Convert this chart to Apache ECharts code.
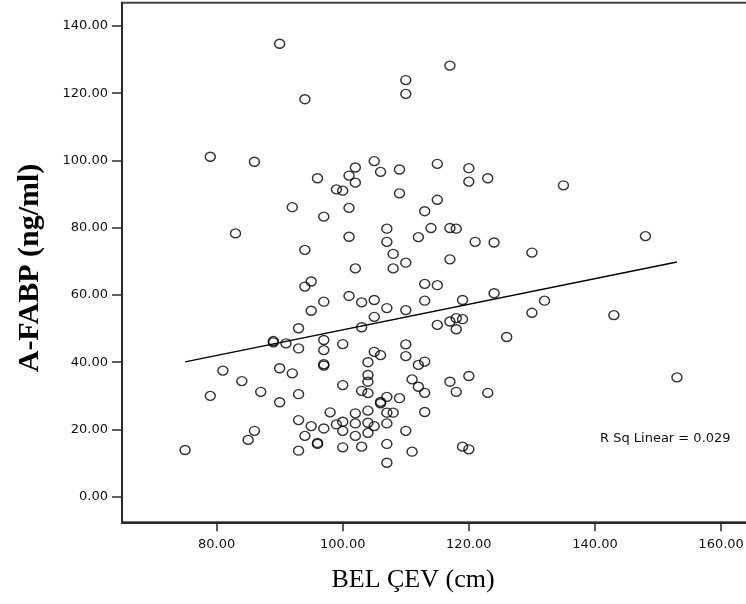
<!DOCTYPE html>
<html>
<head>
<meta charset="utf-8">
<title>A-FABP / BEL ÇEV</title>
<script src="https://cdn.jsdelivr.net/npm/echarts@6/dist/echarts.min.js"></script>
<style>
  html, body { margin: 0; padding: 0; background: #fff; }
  #chart { width: 746px; height: 604px; }
</style>
</head>
<body>
<div id="chart"></div>
<script>
// Waist circumference (cm) of each subject
const waistCm = [
  90, 110, 110, 94, 79, 86, 105, 102, 106, 109, 115, 101, 102, 96, 99, 100,
  109, 115, 113, 92, 101, 97, 83, 101, 107, 107, 114, 112, 94, 108, 110,
  117, 120, 120, 123, 135, 117, 118, 121, 124, 130, 148, 117,
  102, 94, 95, 97, 101, 103, 105, 108, 113, 115, 95, 107, 110, 113, 115,
  105, 103, 93, 89, 89, 91, 93, 97, 97, 100, 105, 106, 110, 110, 112, 113,
  104, 97, 97, 81, 90, 92, 84, 87, 79, 90, 93, 100, 104, 104, 103, 104,
  107, 109, 106, 106, 111, 112, 113, 113, 107, 108, 102, 104, 98, 93, 95,
  97, 99, 100, 102, 104, 105, 107, 100, 104, 102, 110, 85, 86, 94, 96, 96,
  93, 100, 103, 107, 111, 107, 75,
  117, 118, 119, 118, 126, 117, 120, 118, 123, 119, 120, 119, 124, 132,
  130, 143, 153
];

// A-FABP concentration (ng/ml) for the same subjects
const afabpNgMl = [
  134.7, 123.9, 119.8, 118.2, 101.1, 99.6, 99.8, 97.9, 96.6, 97.3, 99.0, 95.5,
  93.4, 94.7, 91.4, 91.0, 90.2, 88.3, 84.9, 86.1, 85.9, 83.3, 78.3, 77.3,
  79.7, 75.8, 79.9, 77.2, 73.4, 72.2, 69.6,
  128.2, 97.7, 93.7, 94.7, 92.6, 79.9, 79.7, 75.8, 75.6, 72.6, 77.5, 70.6,
  67.9, 62.5, 64.0, 58.0, 59.7, 57.8, 58.5, 67.9, 63.3, 62.9, 55.3, 56.1,
  55.5, 58.3, 51.1, 53.5, 50.4, 50.1, 45.9, 46.3, 45.6, 44.1, 46.6, 43.6,
  45.4, 43.1, 42.1, 45.3, 41.8, 39.2, 40.2, 40.0, 39.4, 39.0, 37.5, 38.2,
  36.7, 34.4, 31.2, 30.0, 28.1, 30.5, 33.2, 36.2, 34.2, 31.5, 30.8, 29.7,
  29.3, 27.8, 28.2, 34.9, 32.7, 30.9, 25.2, 25.0, 25.0, 24.8, 25.6, 25.1,
  22.8, 21.0, 20.3, 21.5, 22.3, 21.8, 22.0, 21.0, 21.8, 19.6, 19.0, 18.1,
  19.6, 16.9, 19.6, 18.1, 15.7, 16.0, 13.7, 14.7, 14.9, 15.7, 13.4, 10.1,
  13.9,
  52.1, 53.1, 52.8, 49.8, 47.5, 34.2, 35.9, 31.2, 30.9, 14.9, 14.1, 58.5,
  60.5, 58.3, 54.7, 54.0, 35.5
];

// Linear fit drawn across the observed waist range
const fitWaist = [75, 153];
const fitAfabp = [40.1, 69.8];

// Axis tick values
const xTicks = [80, 100, 120, 140, 160];
const yTicks = [0, 20, 40, 60, 80, 100, 120, 140];

const rSqText = 'R Sq Linear = 0.029';

const points = waistCm.map((w, i) => [w, afabpNgMl[i]]);
const fitLine = fitWaist.map((w, i) => [w, fitAfabp[i]]);

const chart = echarts.init(document.getElementById('chart'), null, { renderer: 'canvas' });

const axisColor = '#2a2a2a';
const tickLabel = {
  fontFamily: '"DejaVu Sans", Verdana, sans-serif',
  fontSize: 13,
  color: '#111'
};

chart.setOption({
  animation: false,
  backgroundColor: '#fff',
  grid: {
    left: 122,
    right: -6,
    top: 2.7,
    bottom: 81.7,
    outerBoundsMode: 'none',
    containLabel: false,
    show: true,
    borderColor: '#444',
    borderWidth: 2,
    backgroundColor: '#fff'
  },
  xAxis: {
    type: 'value',
    min: 65,
    max: 164.9,
    axisLine: { show: true, onZero: false, lineStyle: { color: axisColor, width: 2 } },
    axisTick: {
      show: true,
      customValues: xTicks,
      length: 9,
      lineStyle: { color: axisColor, width: 1.5 }
    },
    axisLabel: Object.assign({
      customValues: xTicks,
      margin: 16,
      formatter: v => v.toFixed(2)
    }, tickLabel),
    splitLine: { show: false }
  },
  yAxis: {
    type: 'value',
    min: -7.6,
    max: 146.9,
    axisLine: { show: true, onZero: false, lineStyle: { color: axisColor, width: 2 } },
    axisTick: {
      show: true,
      customValues: yTicks,
      length: 10,
      lineStyle: { color: axisColor, width: 1.5 }
    },
    axisLabel: Object.assign({
      customValues: yTicks,
      margin: 14,
      formatter: v => v.toFixed(2)
    }, tickLabel),
    splitLine: { show: false }
  },
  graphic: [
    {
      type: 'text',
      x: 413,
      y: 580,
      style: {
        text: 'BEL ÇEV (cm)',
        align: 'center',
        verticalAlign: 'middle',
        font: '26px "Liberation Serif", "Times New Roman", serif',
        fill: '#000'
      }
    },
    {
      type: 'text',
      x: 30,
      y: 268,
      rotation: Math.PI / 2,
      style: {
        text: 'A-FABP (ng/ml)',
        align: 'center',
        verticalAlign: 'middle',
        font: 'bold 30px "Liberation Serif", "Times New Roman", serif',
        fill: '#000'
      }
    },
    {
      type: 'text',
      x: 600,
      y: 439,
      style: {
        text: rSqText,
        align: 'left',
        verticalAlign: 'middle',
        font: '13px "DejaVu Sans", Verdana, sans-serif',
        fill: '#111'
      }
    }
  ],
  series: [
    {
      type: 'line',
      data: fitLine,
      symbol: 'none',
      lineStyle: { color: '#000', width: 1.3 },
      z: 3
    },
    {
      type: 'scatter',
      data: points,
      symbol: 'circle',
      symbolSize: [10, 9],
      itemStyle: {
        color: 'rgba(255,255,255,0)',
        borderColor: '#000',
        borderWidth: 1.4
      },
      z: 4
    }
  ]
});
</script>
</body>
</html>
